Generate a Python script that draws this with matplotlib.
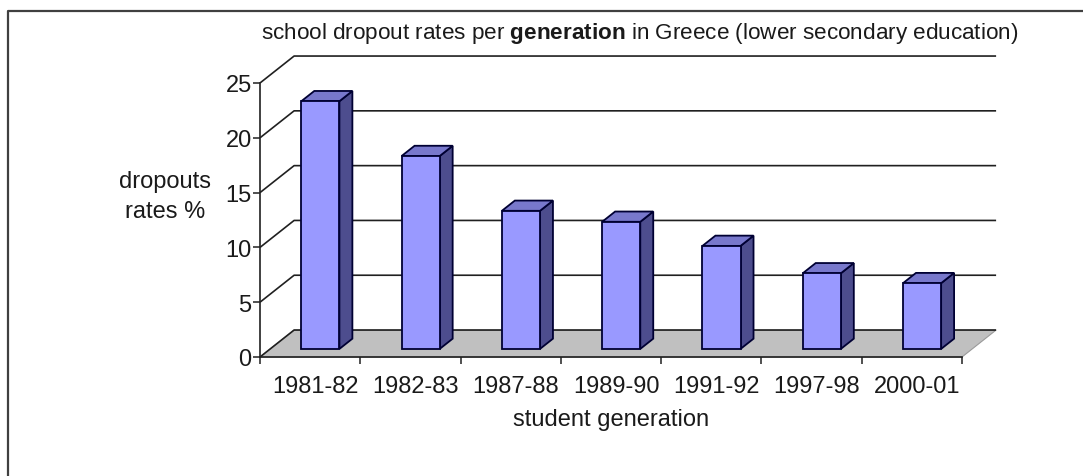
import matplotlib
matplotlib.use("Agg")
import matplotlib.pyplot as plt
from matplotlib.patches import Polygon
from matplotlib.lines import Line2D

plt.rcParams['font.family'] = ['Liberation Sans', 'DejaVu Sans']
plt.rcParams['mathtext.fontset'] = 'custom'
plt.rcParams['mathtext.rm'] = 'Liberation Sans'
plt.rcParams['mathtext.bf'] = 'Liberation Sans:bold'

# ---- data ----
categories = ["1981-82", "1982-83", "1987-88", "1989-90", "1991-92", "1997-98", "2000-01"]
dropout_rates = [22.6, 17.6, 12.6, 11.6, 9.4, 6.9, 6.0]
y_ticks = [0, 5, 10, 15, 20, 25]
title_text = r"school dropout rates per $\mathbf{generation}$ in Greece (lower secondary education)"
x_label = "student generation"
y_label = "dropouts\nrates %"

# ---- style ----
W, H, DPI = 1083, 477, 100
TXT = "#1a1a1a"
FRONT = "#9999FF"
TOP = "#7878CC"
SIDE = "#4D4D8E"
EDGE = "#000033"
FLOOR = "#C0C0C0"
DX = 0.34      # depth offset in category units
DY = 2.46      # depth offset in value units
F = 0.30       # depth position of bar front
BW = 0.38      # bar width (category units)
BD = 0.38      # bar depth fraction

fig = plt.figure(figsize=(W / DPI, H / DPI), dpi=DPI)
ax = fig.add_axes([260 / W, (H - 358) / H, 702 / W, 274 / H])
n = len(categories)
ax.set_xlim(0, n)
ax.set_ylim(0, 25)

# floor
floor = Polygon([(0, 0), (n, 0), (n + DX, DY), (DX, DY)], closed=True,
                facecolor=FLOOR, edgecolor="#9a9a9a", lw=0.8, clip_on=False, zorder=1)
ax.add_patch(floor)

# back wall gridlines with diagonal connectors
for v in y_ticks:
    ax.plot([0, DX, n + DX], [v, v + DY, v + DY], color="#202020", lw=1.2,
            clip_on=False, zorder=2, solid_capstyle="butt")

# 3D bars
for i, v in enumerate(dropout_rates):
    x0 = i + 0.5 + F * DX - BW / 2
    y0 = F * DY
    ddx, ddy = BD * DX, BD * DY
    front = [(x0, y0), (x0 + BW, y0), (x0 + BW, y0 + v), (x0, y0 + v)]
    top = [(x0, y0 + v), (x0 + BW, y0 + v), (x0 + BW + ddx, y0 + v + ddy), (x0 + ddx, y0 + v + ddy)]
    side = [(x0 + BW, y0), (x0 + BW + ddx, y0 + ddy), (x0 + BW + ddx, y0 + v + ddy), (x0 + BW, y0 + v)]
    for pts, col in ((side, SIDE), (top, TOP), (front, FRONT)):
        ax.add_patch(Polygon(pts, closed=True, facecolor=col, edgecolor=EDGE,
                             lw=1.3, joinstyle="miter", clip_on=False, zorder=3))

# axes styling
for s in ("top", "right"):
    ax.spines[s].set_visible(False)
for s in ("left", "bottom"):
    ax.spines[s].set_color("#202020")
    ax.spines[s].set_linewidth(1.2)
    ax.spines[s].set_zorder(4)
ax.patch.set_visible(False)

ax.set_yticks(y_ticks)
ax.set_yticklabels([str(t) for t in y_ticks])
ax.tick_params(axis="y", direction="out", length=5, width=1.1, color="#202020",
               labelsize=17, labelcolor=TXT, pad=1)

ax.set_xticks(range(n + 1))
ax.set_xticklabels([])
ax.set_xticks([i + 0.55 for i in range(n)], minor=True)
ax.set_xticklabels(categories, minor=True)
ax.tick_params(axis="x", which="major", direction="out", length=5, width=1.1, color="#202020")
ax.tick_params(axis="x", which="minor", length=0, labelsize=17, labelcolor=TXT, pad=13)

ax.set_xlabel(x_label, fontsize=17, color=TXT, labelpad=8)
fig.text(165 / W, 1 - 197 / H, y_label, fontsize=17, color=TXT, ha="center", va="center",
         multialignment="center", linespacing=1.5)

fig.text(640 / W, 1 - 33 / H, title_text, fontsize=16.2, color=TXT, ha="center", va="center")

# outer frame (left and top)
fig.add_artist(Line2D([7.5 / W, 7.5 / W, 1.0], [0, 1 - 12 / H, 1 - 12 / H],
                      transform=fig.transFigure, color="#404040", lw=1.6))

fig.savefig("out.png", dpi=DPI)
